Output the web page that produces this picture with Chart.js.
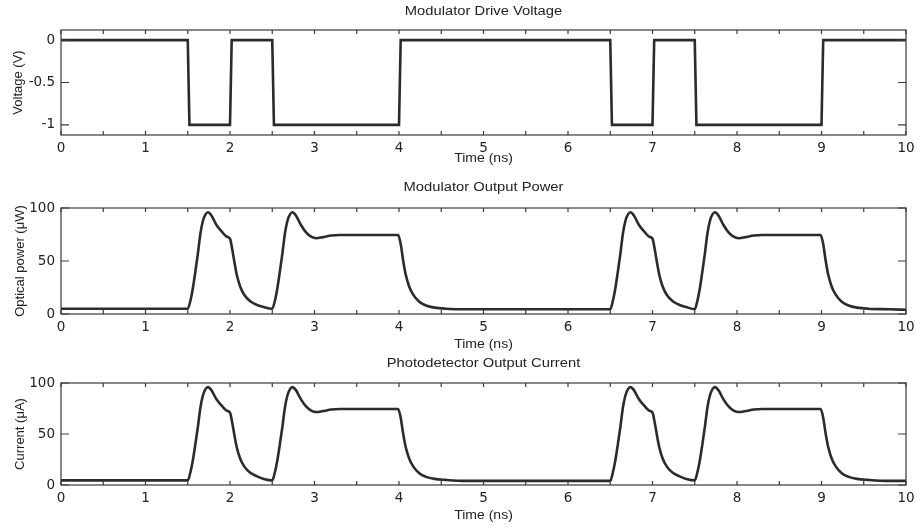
<!DOCTYPE html>
<html>
<head>
<meta charset="utf-8">
<script src="https://cdn.jsdelivr.net/npm/chart.js@4.4.1/dist/chart.umd.min.js"></script>
<style>
  html, body { margin: 0; padding: 0; background: #fff; }
  .panel { position: absolute; left: 0; width: 916px; }
</style>
</head>
<body>
<div class="panel" style="top:0;height:170px"><canvas id="c1"></canvas></div>
<div class="panel" style="top:170px;height:182px"><canvas id="c2"></canvas></div>
<div class="panel" style="top:352px;height:175px"><canvas id="c3"></canvas></div>
<script>
// tick positions (labels only on whole ns)
const xTickVals = [0, 0.5, 1, 1.5, 2, 2.5, 3, 3.5, 4, 4.5, 5, 5.5, 6, 6.5, 7, 7.5, 8, 8.5, 9, 9.5, 10];
const voltTicks = [-1, -0.5, 0];
const powerTicks = [0, 50, 100];

// modulator drive voltage (V)
const voltT = [0, 1.5, 1.52, 2.0, 2.02, 2.5, 2.52, 4.0, 4.02, 6.5, 6.52, 7.0, 7.02, 7.5, 7.52, 9.0, 9.02, 10];
const voltV = [0, 0, -1, -1, 0, 0, -1, -1, 0, 0, -1, -1, 0, 0, -1, -1, 0, 0];

// modulator output power (uW)
const powerT = [0, 1.5, 1.53, 1.56, 1.59, 1.62, 1.65, 1.68, 1.71, 1.74, 1.78, 1.84, 1.9, 1.96, 2.0,
  2.02, 2.05, 2.08, 2.12, 2.17, 2.24, 2.32, 2.4, 2.5,
  2.53, 2.56, 2.59, 2.62, 2.65, 2.68, 2.71, 2.74, 2.78, 2.84, 2.9, 2.96, 3.02, 3.1, 3.2, 3.3, 3.6, 3.99,
  4.02, 4.05, 4.08, 4.12, 4.17, 4.24, 4.32, 4.42, 4.55, 4.8, 6.5,
  6.53, 6.56, 6.59, 6.62, 6.65, 6.68, 6.71, 6.74, 6.78, 6.84, 6.9, 6.96, 7.0,
  7.02, 7.05, 7.08, 7.12, 7.17, 7.24, 7.32, 7.4, 7.5,
  7.53, 7.56, 7.59, 7.62, 7.65, 7.68, 7.71, 7.74, 7.78, 7.84, 7.9, 7.96, 8.02, 8.1, 8.2, 8.3, 8.6, 8.99,
  9.02, 9.05, 9.08, 9.12, 9.17, 9.24, 9.32, 9.42, 9.55, 9.8, 10];
const powerV = [5, 5, 12, 24, 40, 57, 76, 88, 94, 96, 93, 84, 78, 73, 71,
  64, 50, 37, 26, 18, 12, 8.5, 6.5, 5,
  12, 24, 40, 57, 76, 88, 94, 96, 93, 84, 77, 73, 71.5, 72.5, 74, 74.5, 74.5, 74.5,
  66, 50, 37, 26, 18, 11.5, 8, 6, 5, 4.5, 4.5,
  12, 24, 40, 57, 76, 88, 94, 96, 93, 84, 78, 73, 71,
  64, 50, 37, 26, 18, 12, 8.5, 6.5, 4.5,
  12, 24, 40, 57, 76, 88, 94, 96, 93, 84, 77, 73, 71.5, 72.5, 74, 74.5, 74.5, 74.5,
  66, 50, 37, 26, 18, 11.5, 8, 6, 5, 4.5, 4];

// photodetector output current (uA)
const currentV = [4.5, 4.5, 12, 24, 40, 57, 76, 88, 94, 96, 93, 84, 78, 73, 71,
  64, 50, 37, 26, 18, 12, 8.5, 6, 4.5,
  12, 24, 40, 57, 76, 88, 94, 96, 93, 84, 77, 73, 71.5, 72.5, 74, 74.5, 74.5, 74.5,
  66, 50, 37, 26, 18, 11.5, 8, 6, 5, 4, 4,
  12, 24, 40, 57, 76, 88, 94, 96, 93, 84, 78, 73, 71,
  64, 50, 37, 26, 18, 12, 8.5, 6, 4.5,
  12, 24, 40, 57, 76, 88, 94, 96, 93, 84, 77, 73, 71.5, 72.5, 74, 74.5, 74.5, 74.5,
  66, 50, 37, 26, 18, 11.5, 8, 6, 5, 4, 4];

const FONT = '"Liberation Sans", Arial, Helvetica, sans-serif';
const TICK_FONT = '"DejaVu Sans", sans-serif';
const INK = '#222';

// text drawn a little wider than tall, like the scanned original
function wideText(ctx, s, x, y, k) {
  ctx.save();
  ctx.translate(x, y);
  ctx.scale(k, 1);
  ctx.fillText(s, 0, 0);
  ctx.restore();
}

// box around the plot area with inward ticks on all four sides, plus texts
const framePlugin = {
  id: 'frame',
  afterDraw(chart, args, o) {
    const { ctx, chartArea: a, scales } = chart;
    ctx.save();
    ctx.strokeStyle = '#3a3a3a';
    ctx.lineWidth = 1.2;
    ctx.strokeRect(a.left, a.top, a.right - a.left, a.bottom - a.top);
    ctx.beginPath();
    scales.x.ticks.forEach(t => {
      const px = scales.x.getPixelForValue(t.value);
      ctx.moveTo(px, a.bottom); ctx.lineTo(px, a.bottom - 4);
      ctx.moveTo(px, a.top); ctx.lineTo(px, a.top + 4);
    });
    scales.y.ticks.forEach(t => {
      const py = scales.y.getPixelForValue(t.value);
      ctx.moveTo(a.left, py); ctx.lineTo(a.left + 8, py);
      ctx.moveTo(a.right, py); ctx.lineTo(a.right - 8, py);
    });
    ctx.stroke();

    ctx.fillStyle = INK;
    ctx.font = '12.5px ' + FONT;
    ctx.textAlign = 'center';
    ctx.textBaseline = 'middle';
    const cx = (a.left + a.right) / 2;
    wideText(ctx, o.title, cx, a.top - o.titleGap, 1.18);
    wideText(ctx, o.xlabel, cx, a.bottom + o.xlabelGap, 1.12);
    ctx.font = '13px ' + FONT;
    ctx.translate(o.ylabelX, (a.top + a.bottom) / 2);
    ctx.rotate(-Math.PI / 2);
    ctx.fillText(o.ylabel, 0, 0);
    ctx.restore();
  }
};

function makePanel(id, xs, ys, yMin, yMax, yTicks, texts, topPad, xAxisH) {
  const points = xs.map((t, i) => ({ x: t, y: ys[i] }));
  return new Chart(document.getElementById(id), {
    type: 'line',
    data: {
      datasets: [{
        data: points,
        borderColor: '#2b2b2b',
        borderWidth: 2.6,
        pointRadius: 0,
        tension: texts.smooth ? 0.35 : 0,
        cubicInterpolationMode: texts.smooth ? 'monotone' : 'default'
      }]
    },
    options: {
      responsive: true,
      maintainAspectRatio: false,
      animation: false,
      layout: { padding: { top: topPad, right: 10, left: 0, bottom: 0 } },
      plugins: { legend: { display: false }, tooltip: { enabled: false }, frame: texts },
      scales: {
        x: {
          type: 'linear', min: 0, max: 10,
          afterBuildTicks: s => { s.ticks = xTickVals.map(v => ({ value: v })); },
          afterFit: s => { s.height = xAxisH; s.paddingLeft = 0; s.paddingRight = 0; },
          grid: { display: false, drawTicks: false },
          border: { display: false },
          ticks: {
            autoSkip: false, maxRotation: 0, padding: 5, color: INK,
            font: { family: TICK_FONT, size: 13.5 },
            callback: v => Number.isInteger(v) ? String(v) : ''
          }
        },
        y: {
          min: yMin, max: yMax,
          afterBuildTicks: s => { s.ticks = yTicks.map(v => ({ value: v })); },
          afterFit: s => { s.width = 61; s.paddingTop = 0; s.paddingBottom = 0; },
          grid: { display: false, drawTicks: false },
          border: { display: false },
          ticks: {
            padding: 6, color: INK,
            font: { family: TICK_FONT, size: 13.5 },
            callback: v => String(v)
          }
        }
      }
    },
    plugins: [framePlugin]
  });
}

makePanel('c1', voltT, voltV, -1.12, 0.12, voltTicks,
  { title: 'Modulator Drive Voltage', titleGap: 18, xlabel: 'Time (ns)', xlabelGap: 24, ylabel: 'Voltage (V)', ylabelX: 18, smooth: false },
  30, 35);
makePanel('c2', powerT, powerV, 0, 100, powerTicks,
  { title: 'Modulator Output Power', titleGap: 20, xlabel: 'Time (ns)', xlabelGap: 31, ylabel: 'Optical power (\u03bcW)', ylabelX: 20, smooth: true },
  38, 38);
makePanel('c3', powerT, currentV, 0, 100, powerTicks,
  { title: 'Photodetector Output Current', titleGap: 19, xlabel: 'Time (ns)', xlabelGap: 31, ylabel: 'Current (\u03bcA)', ylabelX: 20, smooth: true },
  31, 42);
</script>
</body>
</html>
